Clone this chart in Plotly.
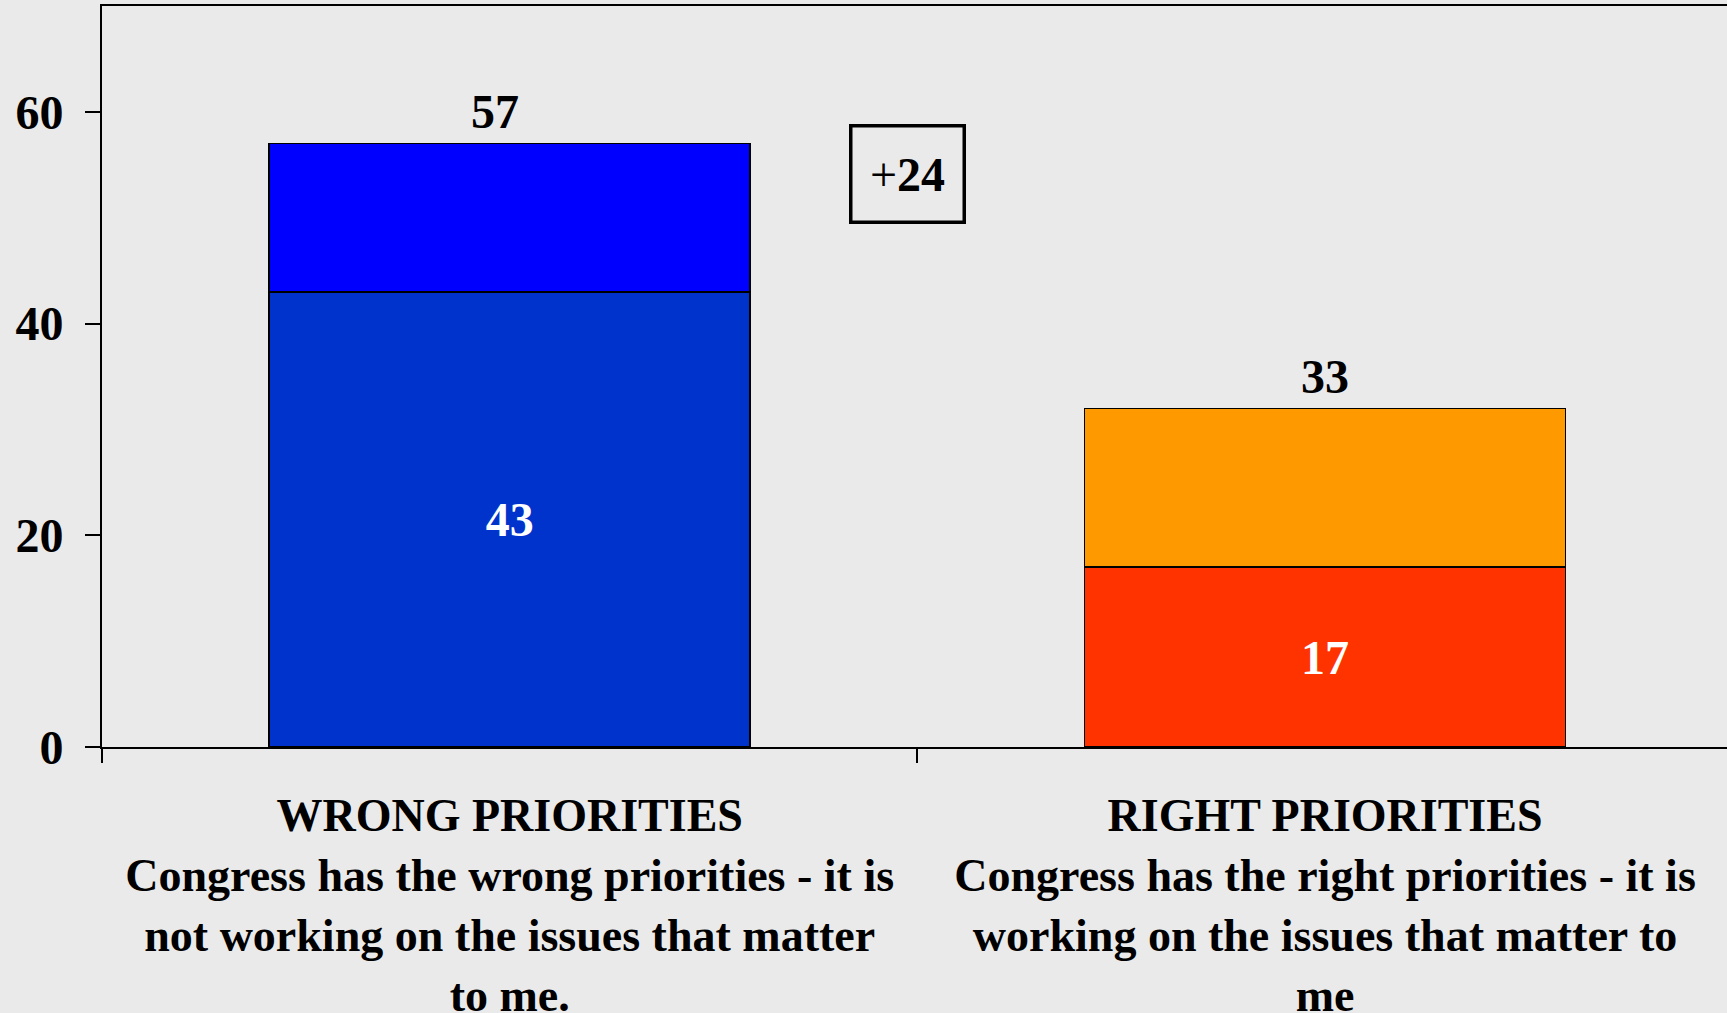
import plotly.graph_objects as go

categories = [
    "<b>WRONG PRIORITIES</b><br><b>Congress has the wrong priorities - it is</b><br><b>not working on the issues that matter</b><br><b>to me.</b>",
    "<b>RIGHT PRIORITIES</b><br><b>Congress has the right priorities - it is</b><br><b>working on the issues that matter to</b><br><b>me</b>",
]
bottom_values = [43, 17]
top_values = [14, 15]
total_labels = ["57", "33"]
bottom_colors = ["#0033CC", "#FF3300"]
top_colors = ["#0000FF", "#FF9900"]
gap_label = "+<b>24</b>"
y_ticks = [0, 20, 40, 60]

FONT = "Liberation Serif, Times New Roman, serif"
BG = "#EAEAEA"

fig = go.Figure()
fig.add_trace(go.Bar(
    x=categories, y=bottom_values,
    marker=dict(color=bottom_colors, line=dict(color="black", width=1.5)),
    text=[f"<b>{v}</b>" for v in bottom_values],
    textposition="inside", insidetextanchor="middle",
    textfont=dict(family=FONT, size=48, color="white"),
    constraintext="none",
    showlegend=False, hoverinfo="skip",
))
fig.add_trace(go.Bar(
    x=categories, y=top_values,
    marker=dict(color=top_colors, line=dict(color="black", width=1.5)),
    showlegend=False, hoverinfo="skip",
))

totals = [b + t for b, t in zip(bottom_values, top_values)]
label_xshift = [-15, 0]
for cat, tot, lab, xs in zip(categories, totals, total_labels, label_xshift):
    fig.add_annotation(
        x=cat, y=tot, text=f"<b>{lab}</b>", showarrow=False,
        yanchor="middle", yshift=32, xshift=xs,
        font=dict(family=FONT, size=48, color="black"),
    )

fig.add_annotation(
    x=0.488, y=54.1, xref="x", yref="y", text=gap_label, showarrow=False,
    font=dict(family=FONT, size=48, color="black"),
    bordercolor="black", borderwidth=3.5, width=108, height=91,
    bgcolor=BG,
)

fig.update_layout(
    barmode="stack",
    bargap=0.41,
    width=1727, height=1013,
    margin=dict(l=102, r=0, t=6, b=266),
    paper_bgcolor=BG, plot_bgcolor=BG,
    font=dict(family=FONT, color="black"),
)
fig.update_xaxes(
    type="category",
    range=[-0.5, 1.493],
    automargin=False,
    showline=True, linecolor="black", linewidth=2, mirror=True,
    ticks="outside", tickson="boundaries", ticklen=14, tickwidth=2, tickcolor="black",
    tickfont=dict(family=FONT, size=46, color="black"),
    ticklabelstandoff=27,
    showgrid=False, zeroline=False,
)
fig.update_yaxes(
    range=[0, 70],
    automargin=False,
    tickvals=y_ticks,
    ticktext=[f"<b>{t}</b>" for t in y_ticks],
    showline=True, linecolor="black", linewidth=2, mirror=False,
    ticks="outside", ticklen=15, tickwidth=2, tickcolor="black",
    tickfont=dict(family=FONT, size=48, color="black"),
    ticklabelstandoff=12,
    showgrid=False, zeroline=False,
)

fig.write_html(
    "out.html",
    config={"displayModeBar": False},
    post_script="document.body.style.margin='0';document.body.style.background='#EAEAEA';",
)
